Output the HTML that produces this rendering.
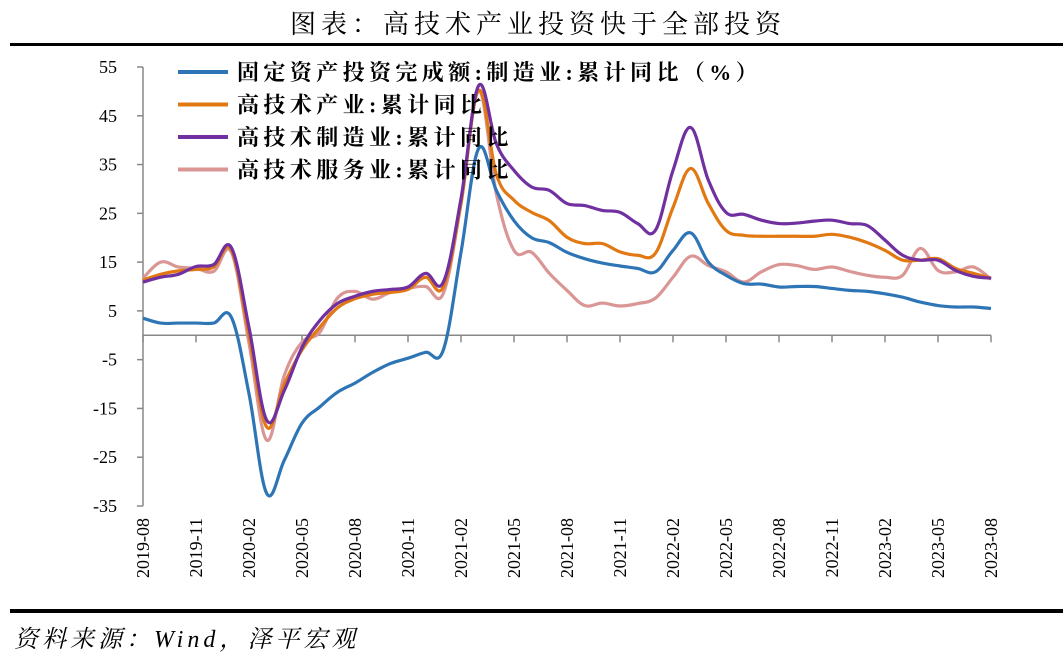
<!DOCTYPE html>
<html><head><meta charset="utf-8">
<style>
body{margin:0;background:#fff;}
svg{display:block;}
</style></head>
<body>
<svg id="chart" width="1063" height="655" xmlns="http://www.w3.org/2000/svg">
<text x="538" y="33" text-anchor="middle" font-family="'Liberation Serif','Noto Serif CJK SC',serif" font-size="26" letter-spacing="5" fill="#000">图表：高技术产业投资快于全部投资</text>
<rect x="10" y="43" width="1053" height="3" fill="#000"/>
<rect x="10" y="609" width="1053" height="4" fill="#000"/>
<text x="14" y="647" font-family="'Liberation Serif','Noto Serif CJK SC',serif" font-style="italic" font-size="24" letter-spacing="4" fill="#000">资料来源：Wind，泽平宏观</text>
<g id="axes"></g>
<g id="series"></g>
<g id="legend"></g>
</svg>
<script>
const categories = [];
(function(){let y=2019,m=8;for(let i=0;i<49;i++){categories.push(y+'-'+String(m).padStart(2,'0'));m++;if(m>12){m=1;y++;}}})();
const yTicks = [55,45,35,25,15,5,-5,-15,-25,-35];
const seriesNames = ['固定资产投资完成额:制造业:累计同比（%）','高技术产业:累计同比','高技术制造业:累计同比','高技术服务业:累计同比'];
const blueVals = [3.5,2.5,2.5,2.5,2.5,3.7,-12,-32.4,-25.6,-18,-14.7,-11.7,-9.8,-7.6,-5.8,-4.7,-3.5,-3.0,17,38.3,29.7,23.5,20,19,17,15.7,14.8,14.2,13.7,13,17.4,21,15,12.3,10.6,10.5,9.9,10,10,9.6,9.2,9.0,8.5,7.8,6.8,6.1,5.8,5.8,5.5];
const orangeVals = [11.3,12.5,13.2,13.5,14,17.5,0,-18.8,-10,-3,1.6,5.6,7.5,8.4,8.8,9.4,11.9,9.9,27,50.2,33,27.7,25.2,23.5,20.1,18.8,18.8,17.1,16.4,16.8,26.2,34.2,27,21.5,20.5,20.3,20.3,20.3,20.3,20.7,20.1,19,17.4,15.4,15.4,15.7,13.7,12.7,11.7];
const purpleVals = [10.9,11.9,12.5,14.1,14.5,18,1.6,-17.4,-11.3,-2.5,3,6.5,8,9,9.4,9.9,12.7,10.9,28,51.2,39.3,33.8,30.4,29.7,27,26.6,25.6,25.2,22.9,21.5,33.8,42.6,31.8,25.2,24.8,23.6,22.9,23,23.4,23.6,22.9,22.5,19.5,16.4,15.4,15.4,13.3,12.1,11.7];
const pinkVals = [11.7,15,14,13.7,13.1,17,-1.6,-21.5,-8.2,-1.4,0.6,7.6,9,7.4,8.8,9.6,10,8.6,27,50.2,29,17.4,17,12.7,9.2,6.1,6.6,6,6.5,7.6,11.9,16.2,14.3,13,10.9,13,14.5,14.3,13.5,14,13.1,12.3,11.9,12.3,17.8,13.3,13,14,11.5];
const colors = ['#2E75B6','#E27811','#7030A0','#D99694'];

const NS='http://www.w3.org/2000/svg';
const X0=143,X1=991,Y0=67,Y1=506,VMAX=55,VMIN=-35;
const xs=i=>X0+(X1-X0)*i/(categories.length-1);
const ys=v=>Y0+(VMAX-v)*(Y1-Y0)/(VMAX-VMIN);
function mk(tag,attrs,parent){const e=document.createElementNS(NS,tag);for(const k in attrs)e.setAttribute(k,attrs[k]);parent.appendChild(e);return e;}
const axes=document.getElementById('axes');
const yAxis=mk('line',{x1:X0,y1:Y0,x2:X0,y2:Y1,stroke:'#888','stroke-width':1.5},axes);


yTicks.forEach(v=>{
  const t=mk('line',{x1:X0-6,y1:ys(v),x2:X0,y2:ys(v),stroke:'#888','stroke-width':1.5},axes);
  
  
  const l=mk('text',{x:117,y:ys(v)+6,'text-anchor':'end','font-family':"'Liberation Serif',serif",'font-size':18,fill:'#000'},axes);
  l.textContent=v;
  
  
});
const xAxis=mk('line',{x1:X0,y1:ys(0),x2:X1,y2:ys(0),stroke:'#888','stroke-width':1.5},axes);


categories.forEach((c,i)=>{
  if(i%3!==0)return;
  const t=mk('line',{x1:xs(i),y1:ys(0),x2:xs(i),y2:ys(0)+7,stroke:'#888','stroke-width':1.5},axes);
  
  
  const l=mk('text',{transform:`translate(${xs(i)+6},518) rotate(-90)`,'text-anchor':'end','font-family':"'Liberation Serif',serif",'font-size':18,fill:'#000'},axes);
  l.textContent=c;
  
  
});
function smoothPath(vals){
  const p=vals.map((v,i)=>[xs(i),ys(v)]);
  let d='M'+p[0][0]+','+p[0][1];
  for(let i=0;i<p.length-1;i++){
    const p0=p[Math.max(0,i-1)],p1=p[i],p2=p[i+1],p3=p[Math.min(p.length-1,i+2)];
    const t=0.18;
    const c1=[p1[0]+(p2[0]-p0[0])*t,p1[1]+(p2[1]-p0[1])*t];
    const c2=[p2[0]-(p3[0]-p1[0])*t,p2[1]-(p3[1]-p1[1])*t];
    d+=` C${c1[0]},${c1[1]} ${c2[0]},${c2[1]} ${p2[0]},${p2[1]}`;
  }
  return d;
}
const sg=document.getElementById('series');
const allVals=[blueVals,orangeVals,purpleVals,pinkVals];
const sNames=['series-manufacturing-fai','series-high-tech-industry','series-high-tech-manufacturing','series-high-tech-services'];
[3,0,1,2].forEach(k=>{
  const p=mk('path',{d:smoothPath(allVals[k]),fill:'none',stroke:colors[k],'stroke-width':3.2,'stroke-linejoin':'round'},sg);
  
  
});
const lg=document.getElementById('legend');
seriesNames.forEach((n,k)=>{
  const y=72+k*32.5;
  const g=mk('g',{},lg);
  
  
  mk('line',{x1:178,y1:y,x2:228,y2:y,stroke:colors[k],'stroke-width':4},g);
  const t=mk('text',{x:237,y:y+8,'font-family':"'Liberation Serif','Noto Serif CJK SC',serif",'font-weight':'bold','font-size':22,'letter-spacing':4.4,fill:'#000'},g);
  t.textContent=n;
});
</script>
</body></html>
